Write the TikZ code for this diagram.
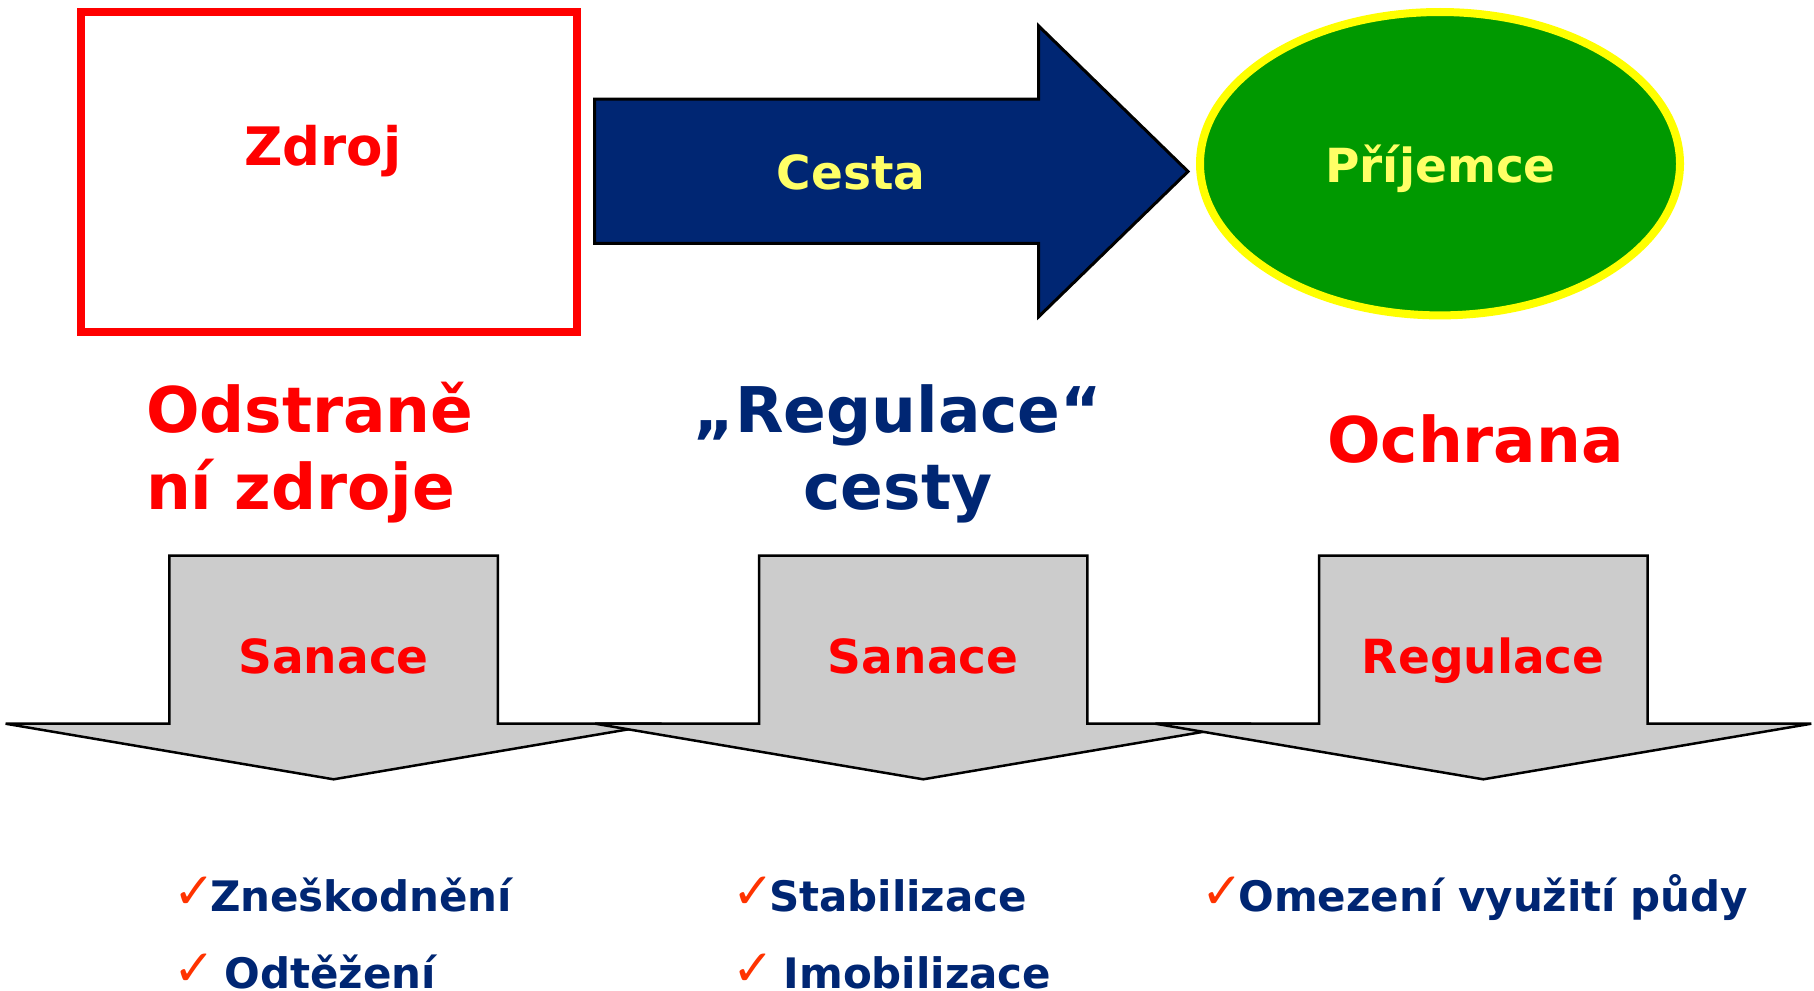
\documentclass[tikz,border=0pt]{standalone}
\usepackage{fontspec}
\setmainfont{DejaVu Sans}
\usetikzlibrary{shapes.geometric}
\definecolor{pred}{RGB}{255,0,0}
\definecolor{navy}{RGB}{0,38,115}
\definecolor{ltyellow}{RGB}{255,255,102}
\definecolor{pyellow}{RGB}{255,255,0}
\definecolor{pgreen}{RGB}{0,153,0}
\definecolor{pgray}{RGB}{204,204,204}
\definecolor{chk}{RGB}{255,51,0}
\newcommand{\chkmark}{\makebox[31pt][l]{\hspace*{-6pt}\color{chk}\fontsize{50}{50}\mdseries\selectfont\raisebox{3pt}{✓}}}
\begin{document}
\begin{tikzpicture}[x=1pt,y=-1pt,
  lbl/.style={inner sep=0pt, outer sep=0pt, anchor=base},
  sz/.style={font=\fontsize{#1}{#1}\selectfont\bfseries},
  big/.style={font=\fontsize{63}{76.3}\selectfont\bfseries, inner sep=0pt, outer sep=0pt},
  item/.style={lbl, anchor=base west, text=navy, font=\fontsize{42}{42}\selectfont\bfseries},
  grayarrow/.style={fill=pgray, draw=black, line width=2.5pt, line join=miter}
]
\useasboundingbox (0,0) rectangle (1814,990);

% Zdroj box
\node[draw=pred, line width=8pt, minimum width=496pt, minimum height=320pt, inner sep=0pt] (zdroj) at (329,172) {};
\node[lbl, sz=53, text=pred] (zdrojt) at (323,165.7) {Zdroj};

% Cesta arrow
\coordinate (c1) at (594.6,99);
\coordinate (c2) at (1038.7,99);
\coordinate (c3) at (1038.7,26);
\coordinate (tip) at (1188,171.5);
\coordinate (c5) at (1038.7,316.7);
\coordinate (c6) at (1038.7,243.3);
\coordinate (c7) at (594.6,243.3);
\draw[fill=navy, draw=black, line width=3pt, line join=miter] (c1) -- (c2) -- (c3) -- (tip) -- (c5) -- (c6) -- (c7) -- cycle;
\node[lbl, sz=47, text=ltyellow] (cestat) at (851,189.3) {Cesta};

% Prijemce ellipse
\node[ellipse, draw=pyellow, fill=pgreen, line width=8pt, minimum width=480pt, minimum height=303.4pt, inner sep=0pt] (prijemce) at (1440,163.7) {};
\node[lbl, sz=47, text=ltyellow] (prijemcet) at (1440.5,182.7) {Příjemce};

% middle headings (base anchor = last line's baseline)
\node[big, text=pred, align=left, anchor=base west] (odstr) at (146,509) {Odstraně\\ní zdroje};
\node[big, text=navy, align=center, anchor=base] (regc) at (898,509) {„Regulace“\\cesty};
\node[lbl, big, text=pred, anchor=base] (ochr) at (1475.5,462.7) {Ochrana};

% gray down arrows
\foreach \cx/\nm/\txt in {333.6/a/Sanace, 923.2/b/Sanace, 1483.3/c/Regulace}{
  \draw[grayarrow] ({\cx-164.2},555.7) -- ({\cx+164.2},555.7) -- ({\cx+164.2},723.7) -- ({\cx+328},723.7)
     -- (\cx,779.3) -- ({\cx-328},723.7) -- ({\cx-164.2},723.7) -- cycle;
  \node[lbl, sz=47, text=pred] (g\nm) at (\cx,673) {\txt};
}

% bottom items
\node[item] (i1) at (179,911) {\chkmark Zneškodnění};
\node[item] (i2) at (179,988) {\chkmark\ Odtěžení};
\node[item] (i3) at (738,911) {\chkmark Stabilizace};
\node[item] (i4) at (738,988) {\chkmark\ Imobilizace};
\node[item] (i5) at (1207.5,911) {\chkmark Omezení využití půdy};
\end{tikzpicture}
\end{document}
